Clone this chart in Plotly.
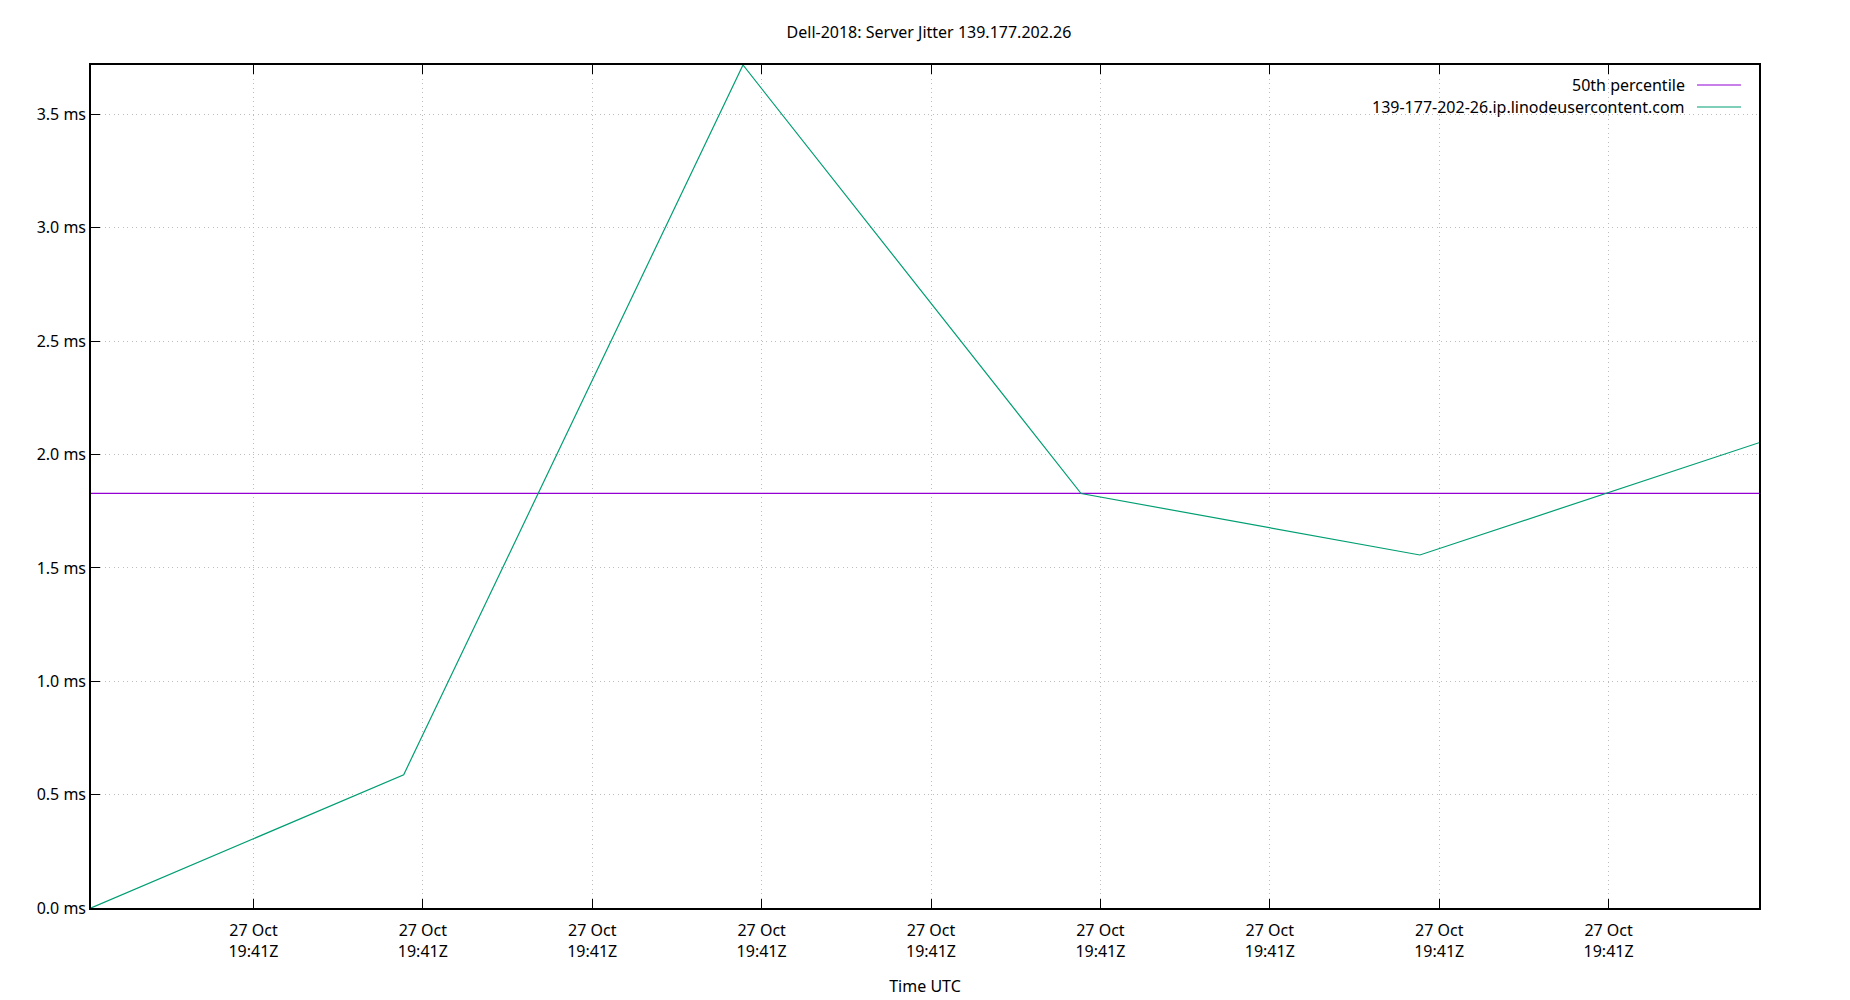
import pandas as pd
import plotly.graph_objects as go

# %% Data
times = pd.to_datetime([
    "2023-10-27 19:41:10.041",
    "2023-10-27 19:41:11.887",
    "2023-10-27 19:41:13.890",
    "2023-10-27 19:41:15.886",
    "2023-10-27 19:41:17.886",
    "2023-10-27 19:41:19.888",
])
jitter_ms = [0.0, 0.588, 3.718, 1.828, 1.557, 2.052]
p50_ms = 1.829

host = "139-177-202-26.ip.linodeusercontent.com"
p50_name = "50th percentile"
title = "Dell-2018: Server Jitter 139.177.202.26"

col_p50 = "#9400d3"
col_host = "#009e73"
font = dict(family="Noto Sans, Open Sans, DejaVu Sans", size=16, color="#000000")

# %% Figure
fig = go.Figure()

fig.add_trace(
    go.Scatter(
        x=[times[0], times[-1]],
        y=[p50_ms, p50_ms],
        mode="lines",
        line=dict(color=col_p50, width=1.2),
        name=p50_name,
    )
)
fig.add_trace(
    go.Scatter(
        x=times,
        y=jitter_ms,
        mode="lines",
        line=dict(color=col_host, width=1.2),
        name=host,
    )
)

# gnuplot-style key: right-aligned text, line sample after it
for i, (name, col) in enumerate([(p50_name, col_p50), (host, col_host)]):
    ky = 0.9763 - i * 0.0262
    fig.add_annotation(
        x=0.9568, y=ky, xref="paper", yref="paper",
        text=name, showarrow=False, xanchor="right", yanchor="middle",
        font=font,
    )
    fig.add_shape(
        type="line", xref="paper", yref="paper",
        x0=0.9628, x1=0.9892, y0=ky, y1=ky,
        line=dict(color=col, width=1.1),
    )

axis_common = dict(
    showline=True,
    linecolor="#000000",
    linewidth=1.5,
    ticks="inside",
    ticklen=9,
    tickwidth=1.2,
    tickcolor="#000000",
    showgrid=True,
    gridcolor="#bdbdbd",
    griddash="1px,3.5px",
    gridwidth=1,
    zeroline=False,
    tickfont=font,
)

fig.update_xaxes(
    **axis_common,
    mirror="ticks",
    type="date",
    range=[times[0], times[-1]],
    tick0="2023-10-27 19:41:11",
    dtick=1000,
    tickformat="%d %b<br>%H:%MZ",
    ticklabelstandoff=7,
    title=dict(text="Time UTC", font=font, standoff=20),
)
fig.update_yaxes(
    **axis_common,
    mirror=True,
    range=[0, 3.718],
    dtick=0.5,
    tickformat=".1f",
    ticksuffix=" ms",
)

# the page body adds an 8px margin, so the figure is 8px smaller and offset
fig.update_layout(
    width=1842,
    height=992,
    margin=dict(l=83, r=91, t=57, b=92, autoexpand=False),
    paper_bgcolor="#ffffff",
    plot_bgcolor="#ffffff",
    showlegend=False,
    font=font,
    title=dict(text=title, x=0.5, xanchor="center", y=0.975, yanchor="middle", font=font),
)

fig.write_html("out.html")
